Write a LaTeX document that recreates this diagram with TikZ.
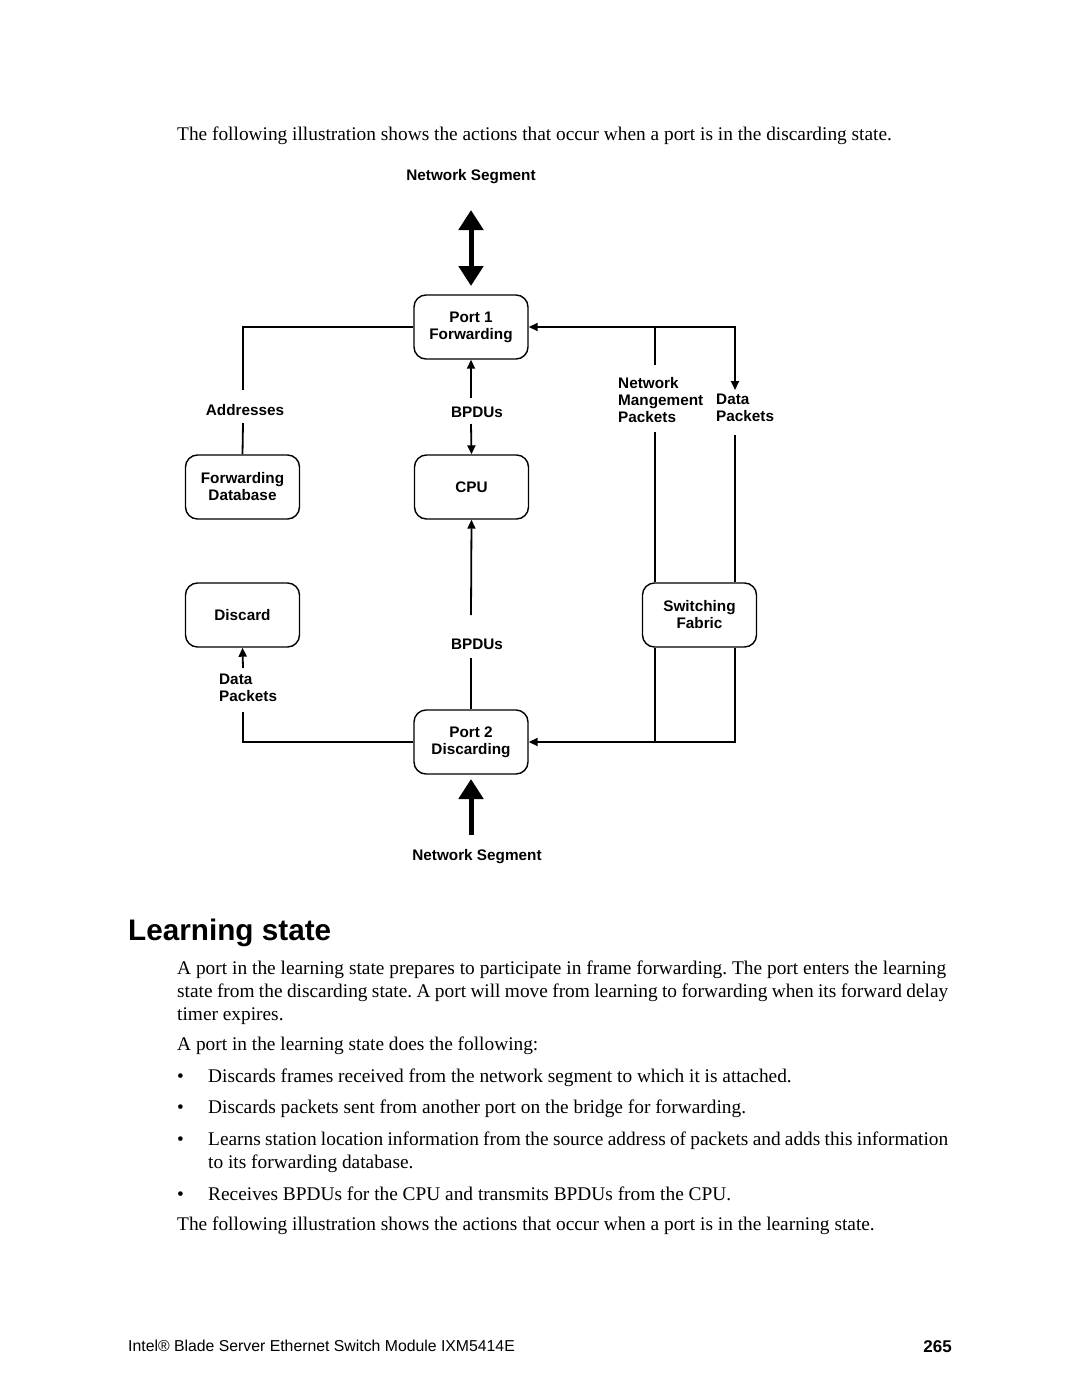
\documentclass[tikz,border=0pt]{standalone}
\usepackage{fontspec}
\setmainfont{Liberation Serif}
\setsansfont{Liberation Sans}
\newfontfamily\diafont{Liberation Sans}
\usetikzlibrary{arrows.meta}
\frenchspacing
\newcommand{\bodysz}{\fontsize{19.35}{23}\selectfont\frenchspacing}
\newcommand{\lblsz}{\fontsize{15.3}{17}\selectfont\diafont\bfseries}
\begin{document}
\begin{tikzpicture}[x=1pt,y=-1pt,
  box/.style={draw, line width=1.4pt, rounded corners=12pt, minimum width=114pt, minimum height=64pt, align=center, font=\lblsz, inner sep=0pt},
  lbl/.style={font=\lblsz, inner sep=0pt, align=left},
  conn/.style={line width=1.8pt},
  tip/.style={-{Triangle[length=9pt,width=8pt]}},
  bigtip/.style={line width=5pt},
  bodyline/.style={anchor=base west, font=\bodysz, inner sep=0pt},
]
\useasboundingbox (0,0) rectangle (1080,1397);
\fill[white] (0,0) rectangle (1080,1397);

% top caption
\node[bodyline] (cap1) at (177,140) {The following illustration shows the actions that occur when a port is in the discarding state.};

% boxes
\node[box] (port1) at (471,327) {Port 1\\Forwarding};
\node[box] (fdb) at (242.5,487) {Forwarding\\Database};
\node[box] (cpu) at (471.5,487) {CPU};
\node[box] (discard) at (242.5,615) {Discard};
\node[box] (sf) at (699.5,615) {Switching\\Fabric};
\node[box] (port2) at (471,742) {Port 2\\Discarding};

% labels
\node[lbl] (netTop) at (471,177) {Network Segment};
\node[lbl] (addr) at (245,410) {Addresses};
\node[lbl] (bpdu1) at (477,412) {BPDUs};
\node[lbl] (bpdu2) at (477,644) {BPDUs};
\node[lbl] (netBot) at (477,857) {Network Segment};
\node[lbl, anchor=north west] (datapk) at (219,674) {Data\\Packets};
\node[lbl, anchor=north west] (nmp) at (618,377) {Network\\Mangement\\Packets};
\node[lbl, anchor=north west] (dpk) at (716,394) {Data\\Packets};

% coordinates
\coordinate (a1) at (243,390);
\coordinate (a2) at (243,423);
\coordinate (b1) at (471,398);
\coordinate (b2) at (471,424);
\coordinate (b3) at (471,615);
\coordinate (b4) at (471,658);
\coordinate (r0) at (735,327);
\coordinate (r1) at (655,327);
\coordinate (r2) at (655,365);
\coordinate (r3) at (735,390);
\coordinate (r4) at (655,432);
\coordinate (r5) at (735,435);
\coordinate (s1) at (655,742);
\coordinate (s2) at (735,742);
\coordinate (d1) at (243,668);
\coordinate (d2) at (243,712);
\coordinate (n1) at (471,210);
\coordinate (n2) at (471,286);
\coordinate (n3) at (471,835);
\coordinate (n4) at (471,779);

% thick arrows
\draw[bigtip, {Triangle[length=20pt,width=24pt]}-{Triangle[length=20pt,width=24pt]}] (n1) -- (n2);
\draw[bigtip, -{Triangle[length=20pt,width=24pt]}] (n3) -- (n4);

% left side
\draw[conn] (port1.west) -| (a1);
\draw[conn] (a2) -- (fdb.north);
\draw[conn, tip] (d1) -- (discard.south);
\draw[conn] (d2) |- (port2.west);

% center
\draw[conn, tip] (b1) -- (port1.south);
\draw[conn, tip] (b2) -- (cpu.north);
\draw[conn, tip] (b3) -- (cpu.south);
\draw[conn] (b4) -- (port2.north);

% right side
\draw[conn, {Triangle[length=9pt,width=8pt]}-{Triangle[length=9pt,width=8pt]}] (port1.east) -- (r0) -- (r3);
\draw[conn] (r1) -- (r2);
\draw[conn] (r4) -- (r4 |- sf.north);
\draw[conn] (r5) -- (r5 |- sf.north);
\draw[conn] (sf.south -| s1) -- (s1);
\draw[conn, tip] (sf.south -| s2) -- (s2) -- (port2.east);

% heading
\node[anchor=base west, font=\fontsize{29.7}{34}\selectfont\sffamily\bfseries, inner sep=0pt] (head) at (128,940) {Learning state};

% body
\node[bodyline] (p1) at (177,974) {\makebox[769pt][s]{A port in the learning state prepares to participate in frame forwarding. The port enters the learning}};
\node[bodyline] (p2) at (177,997) {\makebox[771pt][s]{state from the discarding state. A port will move from learning to forwarding when its forward delay}};
\node[bodyline] (p3) at (177,1020) {timer expires.};
\node[bodyline] (p4) at (177,1050) {A port in the learning state does the following:};
\node[bodyline] (u1) at (177,1082) {\textbullet};
\node[bodyline] (l1) at (208,1082) {Discards frames received from the network segment to which it is attached.};
\node[bodyline] (u2) at (177,1113) {\textbullet};
\node[bodyline] (l2) at (208,1113) {Discards packets sent from another port on the bridge for forwarding.};
\node[bodyline] (u3) at (177,1145) {\textbullet};
\node[bodyline] (l3) at (208,1145) {\makebox[740pt][s]{Learns station location information from the source address of packets and adds this information}};
\node[bodyline] (l3b) at (208,1168) {to its forwarding database.};
\node[bodyline] (u4) at (177,1200) {\textbullet};
\node[bodyline] (l4) at (208,1200) {Receives BPDUs for the CPU and transmits BPDUs from the CPU.};
\node[bodyline] (p5) at (177,1230) {The following illustration shows the actions that occur when a port is in the learning state.};

% footer
\node[anchor=base west, font=\fontsize{15.8}{18}\selectfont\sffamily, inner sep=0pt] (foot) at (128,1351) {Intel® Blade Server Ethernet Switch Module IXM5414E};
\node[anchor=base east, font=\fontsize{17}{20}\selectfont\sffamily\bfseries, inner sep=0pt] (pg) at (952,1352) {265};
\end{tikzpicture}
\end{document}
